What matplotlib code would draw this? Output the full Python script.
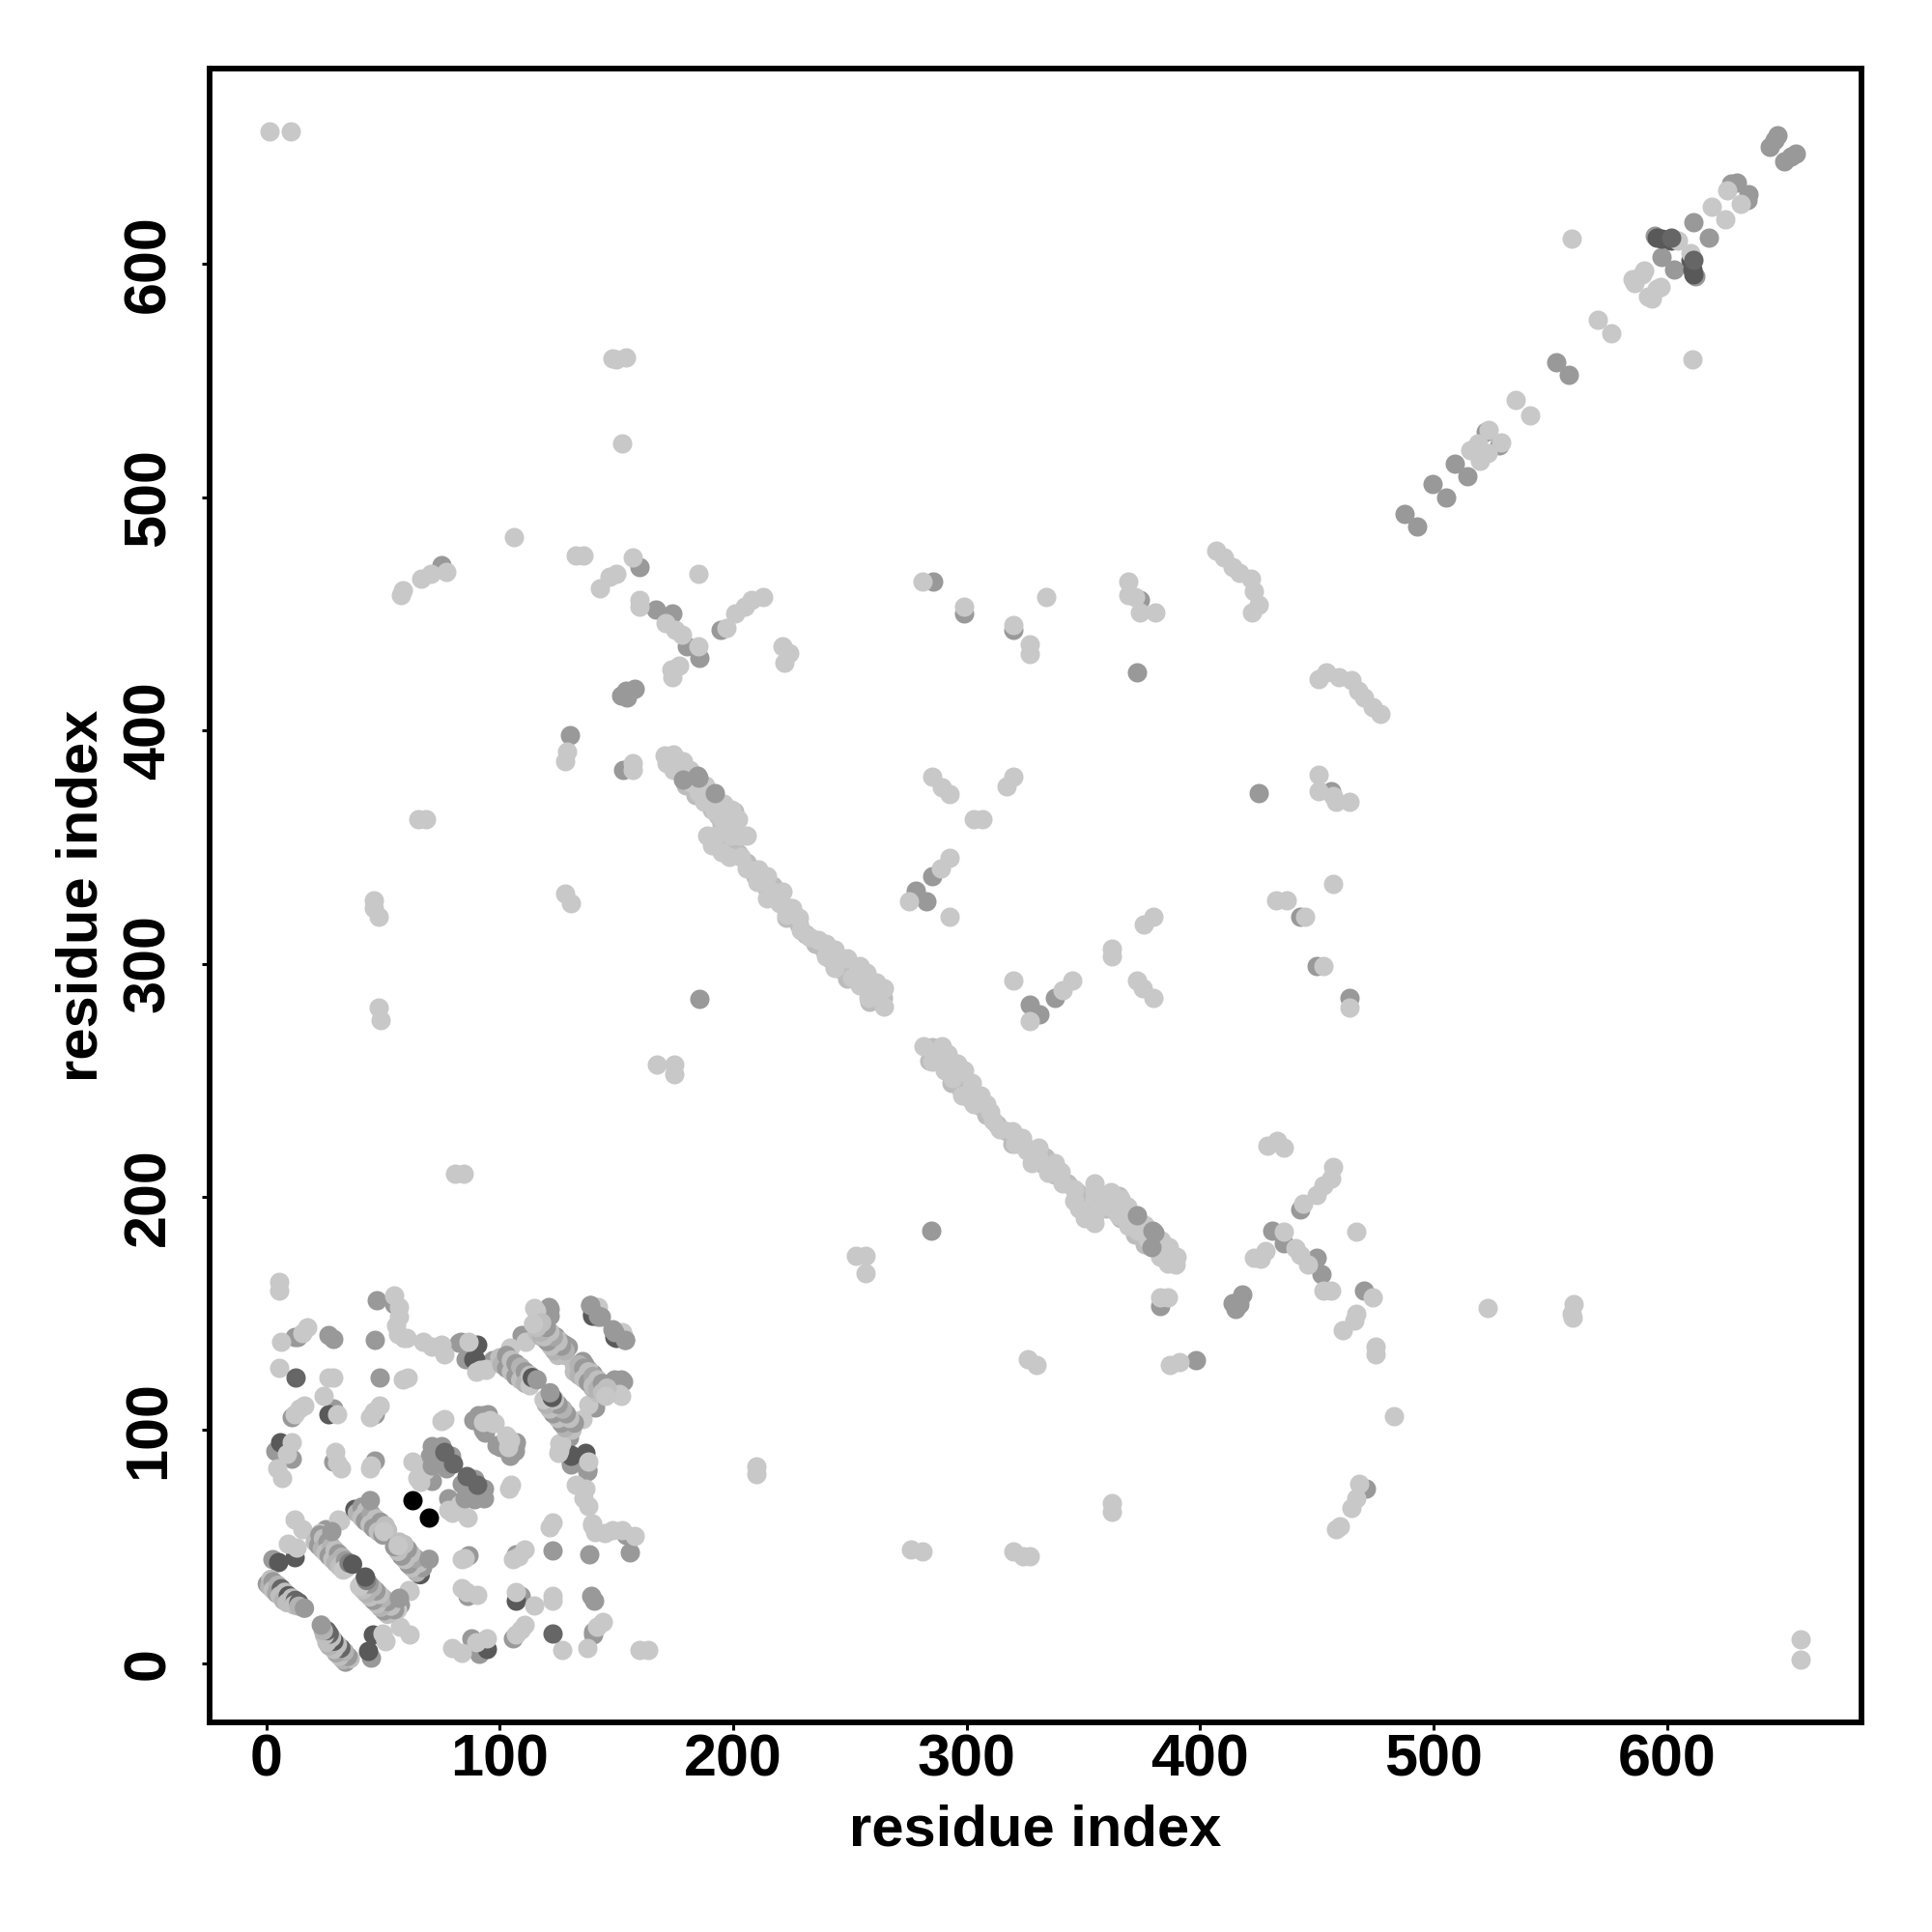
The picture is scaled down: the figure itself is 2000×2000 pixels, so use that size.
import matplotlib
matplotlib.use("Agg")
import matplotlib.pyplot as plt

plt.rcParams['font.family'] = ['Liberation Sans', 'DejaVu Sans']

# contact map is symmetric, so only residue pairs with y > x are listed
# mid grey pairs, bottom layer
mid_pts = [
    (47.4, 155.8), (55, 154), (83.3, 137.7), (86.7, 130.5), (109.5, 140.9), (121.6, 152),
    (121.6, 149.2), (139.8, 152.6), (148.8, 142.3), (153.6, 138.8), (150.2, 120.9), (152.7, 120.9),
    (12.2, 139.9), (13.6, 139.9), (26.7, 140.6), (28.8, 139.1), (46.7, 138.5), (28.8, 109.1),
    (48.5, 122.7), (10.9, 105.7), (46.7, 107), (90.9, 106.4), (93, 106.4), (91.5, 103), (93.6, 98.8),
    (88.8, 104.3), (92.9, 100.2), (95, 107), (4, 91.2), (10.9, 87.7), (28.8, 86.4), (46.4, 86.8),
    (70.9, 78.1), (70.9, 93.3), (70.2, 89.1), (75, 93.3), (79.1, 89.1), (77, 83.6), (25.3, 57.4),
    (2.6, 44.7), (97, 129.8), (82.5, 137.4), (85.3, 130.5),
    (160, 470), (75, 471), (167, 452), (174, 450), (180, 436), (185.7, 431), (194.7, 443),
    (154, 417), (158, 418), (154.6, 414), (130, 398), (153, 383), (285.5, 464), (299, 450),
    (320, 443), (374, 456), (282.6, 326.9), (278.4, 331.1), (285.3, 337.6), (373, 425), (185.6, 284.9),
    (487.6, 493), (499.7, 505.5), (509, 514.5),
    (522.4, 528), (552.5, 558), (597.6, 603), (594.8, 612.2), (611.4, 618), (627.3, 634.3),
    (630, 635), (647.3, 655), (645.9, 653), (643.8, 650.2), (152, 415),
]

# dark grey pairs hidden under the pale layer, only a rim shows
dark_under = [
    (90.2, 136.7), (89.5, 130.5), (88.8, 130.5), (6, 94.7), (5.3, 43.6), (12.2, 45.6),
    (139.8, 149.2), (150, 139.5), (26.7, 107), (595.5, 611.3), (597.6, 610.9), (601.7, 610.2),
]

# slightly darker pale pairs along the long anti-diagonal band
pale_pts = [
    (175.7, 384.6), (181.9, 381.8), (179.8, 376.3), (184, 372.1), (189.5, 370), (190.9, 365.9),
    (193.6, 363.8), (200.5, 365.2), (195, 359.7), (200.5, 357), (195, 350.7), (199.1, 349.4),
    (201.9, 347.3), (206, 343.1), (209.5, 337.6), (214.3, 332.1), (217, 333.5), (219.8, 328),
    (224, 323.8), (222.6, 319.7), (228.1, 316.9), (230.9, 312.8), (235, 308.6), (239.1, 305.9),
    (241.9, 301.7), (246, 297.6), (248.8, 293.5), (254.3, 293.5), (258.4, 289.3), (258.4, 283.8),
    (264, 285.2),
]

# pale grey pairs
light_pts = [
    (1.6, 657), (10.5, 657), (559, 611), (148.3, 559.4), (150, 559), (154, 560), (152.5, 523),
    (106, 483), (57.5, 458), (58.6, 460), (66.5, 465), (70.7, 467), (77, 468), (132.5, 475),
    (136, 475), (143, 461), (147, 466), (150, 467), (157, 474), (160, 456), (160, 453),
    (171, 446), (175, 443), (178, 441), (185, 436), (173.6, 426), (174, 423), (177, 428), (185, 467),
    (197, 444), (201, 450), (205, 453), (208, 456), (213, 457), (221, 436), (224, 433),
    (222, 429), (129, 391), (128, 387), (157, 386), (157, 383), (46, 327), (46, 324), (48, 320),
    (48, 281), (49, 276), (65, 362), (68.6, 362), (128, 330), (130.5, 326), (81, 210), (84.4, 210),
    (167.4, 256.9), (174.6, 256.9), (174.6, 252.7), (285.3, 380), (289.5, 375.6), (292.7, 372.8),
    (292.7, 345.2), (288.8, 341), (275.3, 326.9), (292.7, 320), (281, 464), (299, 453), (320, 445),
    (327, 437), (327, 432.6), (334, 457), (369.4, 464), (369.4, 458), (372, 457), (374, 450.6),
    (381, 450.6), (407, 477), (410, 474), (414, 470), (417, 467.5), (421.6, 465), (423, 459.6),
    (422, 450.6), (425, 454), (317, 376), (320, 380), (303, 362), (306.6, 362),
    (170.8, 389.4), (174.3, 389.8), (178.4, 386.6), (171.5, 386), (174.3, 383), (181.2, 383.2),
    (181.9, 377.7), (188.1, 376.3), (185.3, 373.5), (187.4, 369.4), (195.7, 368.7), (199.1, 365.9),
    (192.2, 365.2), (201.9, 361.8), (195, 362.5), (196.4, 359.7), (206, 354.9), (202.6, 354.9),
    (199.1, 354.9), (188.8, 354.9), (192.2, 354.9), (190.9, 350.7), (195, 348), (198.4, 345.9),
    (203.3, 345.9), (206, 341), (210.9, 340.4), (214.3, 337.6), (210.2, 334.9), (214.3, 328),
    (217, 330.7), (221.2, 330.7), (219.8, 325.9), (222.6, 321), (225.3, 323.8), (228.1, 319.7),
    (228.8, 314.2), (232.9, 311.4), (236.4, 310), (239.8, 308.6), (243.3, 305.9), (239.8, 303.1),
    (243.3, 298), (248.8, 302.4), (254.3, 299), (257, 296.2), (250.9, 294.1), (254.3, 290.7),
    (261.2, 292), (264.6, 289.3), (257.8, 285.2), (264.6, 281.7), (260.5, 286.5),
    (515.6, 520), (519, 523), (523.5, 529), (535, 541.5), (570.4, 576), (585.2, 593.6), (586, 592),
    (589.3, 595.7), (590, 597), (604.5, 609.9), (619, 624.7), (625.9, 631.6),
    (5.6, 163.7), (5.6, 159.8), (54.6, 157.9), (57, 152.6), (57, 148.5), (55.7, 145), (56.4, 141),
    (59, 139.5), (60, 139.5), (67.4, 138), (70.8, 136), (75, 136.7), (76.4, 132.6), (86.7, 138),
    (90.1, 125), (91.5, 125.7), (94.3, 125.7), (94.3, 126.4), (110.9, 138), (104.6, 135.4),
    (115.7, 151.2), (141.9, 152.6), (152.9, 140.9), (152.2, 114.7), (6.4, 137.7), (15.7, 141.6), (17.7, 144),
    (5.6, 126.8), (26.7, 122.7), (28.8, 122.7), (24.6, 114.7), (30.4, 106.8), (58.4, 121.6), (60.5, 122.5),
    (12.2, 107), (14.3, 109.1), (16.4, 110.5), (44.6, 105.7), (46, 108), (48.8, 110.5), (75, 104),
    (76.5, 104.8), (95.7, 104.3), (97.8, 102.9), (97, 103), (92.9, 103.6), (10.9, 94.7), (9, 90), (4.6, 83.6),
    (6.7, 79.5), (29.5, 90.5), (32.2, 83.6), (30.5, 86), (44.6, 83.6), (45, 85), (62.6, 86.4),
    (64.6, 79.5), (68.1, 82.9), (66, 78), (12.2, 61.5), (15.7, 57.4), (30.9, 61.5), (31.6, 61.2),
    (12.9, 49.8), (9.5, 51.2), (34.3, 40.8), (23, 56),
]

# short bands in the corner block: x, y, grey level, in drawing order
band_a = [
    (0.5, 34, 0.6), (2, 36, 0.75), (1.5, 33, 0.7), (3, 35, 0.6), (3, 31.5, 0.75), (5, 33.5, 0.7),
    (4.5, 30, 0.65), (6.5, 32, 0.4), (6, 29, 0.75), (8, 30.5, 0.75), (7.5, 27, 0.7), (9.5, 29, 0.35),
    (9, 26, 0.75), (11, 28, 0.75), (12.5, 27, 0.4), (12, 25, 0.75), (14, 26, 0.4), (14, 24.5, 0.7),
    (16.4, 23.6, 0.6),
]
band_b = [
    (21, 52, 0.75), (23, 55, 0.6), (22.5, 50.5, 0.6), (24.5, 53.5, 0.75), (24, 49, 0.7), (26.5, 52, 0.6),
    (25.5, 47.5, 0.75), (28, 50, 0.7), (27, 46, 0.6), (29.5, 48.5, 0.75), (28.5, 44.5, 0.75), (31, 47, 0.6),
    (30, 43, 0.7), (32.5, 45.5, 0.7), (31.5, 41.5, 0.75), (34, 44, 0.6), (33, 40, 0.78), (35.5, 43, 0.5),
    (37, 42.5, 0.35),
]
band_c = [
    (38, 66, 0.35), (39, 64.5, 0.7), (41, 67, 0.6), (41, 62.5, 0.75), (43, 65.5, 0.75), (42.5, 61, 0.6),
    (45, 64, 0.65), (44.5, 59.5, 0.75), (47, 62, 0.75), (46, 58, 0.6), (49, 60.5, 0.6), (48, 56.5, 0.75),
    (51, 59, 0.75), (50, 55, 0.6), (52, 57, 0.75), (50.5, 56.5, 0.78), (44.6, 69.8, 0.6),
]
band_d = [
    (100, 131, 0.75), (101, 128, 0.7), (103, 132, 0.6), (103, 126.5, 0.6), (105, 130, 0.75),
    (105, 125, 0.75), (107, 128.5, 0.6), (107, 123, 0.6), (109, 127, 0.7), (109, 121.5, 0.75),
    (111, 125, 0.6), (111, 120, 0.7), (113, 123.5, 0.75), (113, 119, 0.78), (114, 122.5, 0.35),
    (116, 121.6, 0.6),
]
band_e = [
    (116, 142, 0.75), (118, 145, 0.7), (118, 140, 0.7), (120, 143, 0.6), (120, 138.5, 0.75),
    (122, 141.5, 0.75), (122, 137, 0.6), (124, 140, 0.6), (124, 135, 0.75), (126, 138, 0.75),
    (126, 133.5, 0.7), (128, 136.5, 0.6), (128, 132, 0.75), (129.4, 135.6, 0.6),
]
band_f = [
    (132, 125, 0.75), (134, 128, 0.7), (134, 123.5, 0.7), (136, 126.5, 0.6), (136, 122, 0.75),
    (138, 125, 0.75), (138, 120.5, 0.6), (140, 123, 0.65), (140, 119, 0.75), (142, 121.5, 0.75),
    (142, 117.5, 0.7), (144, 120, 0.6), (144, 116, 0.75), (146, 118, 0.75), (145.5, 114.5, 0.78),
]

# pairs whose circle lies on top of the pale layer
top_mid_pts = [
    (28.1, 56.7), (141.9, 149.2), (143.3, 148.5), (70.9, 85), (77, 86), (153.6, 138.8),
    (178.4, 379), (185.3, 379.7), (192.2, 373), (184.6, 380.5),
]
top_dark_pts = [(12.6, 122.7), (80.2, 85.7), (76.4, 90.5), (601.9, 611.4)]

black_pts = [(62.6, 69.8)]

ticks = [0, 100, 200, 300, 400, 500, 600]

marker_size = 52


def both_sides(pts):
    xs = [p[0] for p in pts] + [p[1] for p in pts]
    ys = [p[1] for p in pts] + [p[0] for p in pts]
    return xs, ys


fig = plt.figure(figsize=(10, 10), dpi=200)
ax = fig.add_axes([0.1084, 0.1084, 0.8553, 0.8559])

layers = [
    (mid_pts, "#999999"),
    (dark_under, "#595959"),
    (pale_pts, "#bcbcbc"),
    (light_pts, "#c8c8c8"),
]
for z, (pts, col) in enumerate(layers):
    xs, ys = both_sides(pts)
    ax.scatter(xs, ys, s=marker_size, color=col, linewidths=0, zorder=2 + z)

for band in [band_a, band_b, band_c, band_d, band_e, band_f]:
    xs, ys = both_sides(band)
    greys = [str(p[2]) for p in band] * 2
    ax.scatter(xs, ys, s=marker_size, c=greys, linewidths=0, zorder=6)

for z, (pts, col) in enumerate([(top_mid_pts, "#999999"), (top_dark_pts, "#666666"), (black_pts, "black")]):
    xs, ys = both_sides(pts)
    ax.scatter(xs, ys, s=marker_size, color=col, linewidths=0, zorder=7 + z)

ax.set_xlim(-24.3, 683.4)
ax.set_ylim(-25.4, 683.6)
ax.set_xticks(ticks)
ax.set_yticks(ticks)
ax.tick_params(axis='x', length=3, width=1.1, labelsize=22, pad=1)
ax.tick_params(axis='y', length=3, width=1.1, labelsize=22, pad=9)
for lab in ax.get_xticklabels():
    lab.set_fontweight('bold')
for lab in ax.get_yticklabels():
    lab.set_fontweight('bold')
    lab.set_rotation(90)
    lab.set_va('center')
for sp in ax.spines.values():
    sp.set_linewidth(2.1)

ax.set_xlabel("residue index", fontsize=21.5, fontweight='bold', labelpad=5.8)
ax.set_ylabel("residue index", fontsize=21.5, fontweight='bold', labelpad=5)

fig.savefig("out.png", dpi=200)
